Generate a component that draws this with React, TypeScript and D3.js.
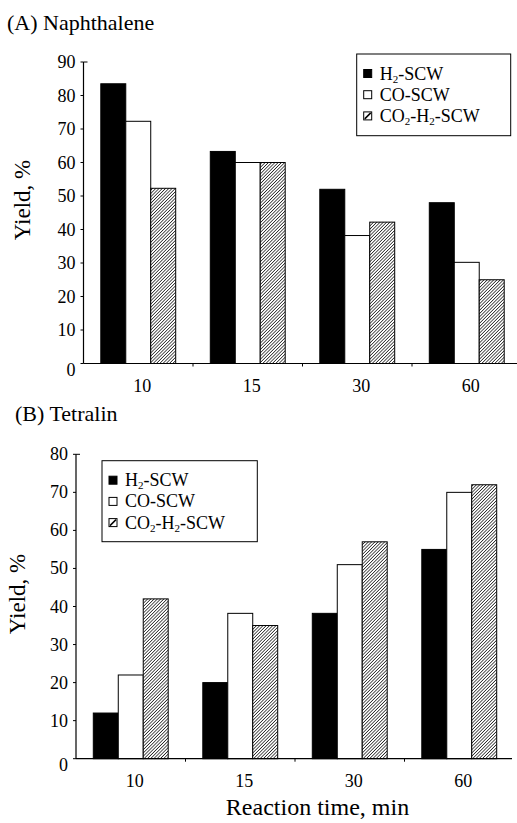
import * as d3 from 'd3';

// reaction times (min)
const categories = ['10', '15', '30', '60'];
const seriesKeys = ['h2', 'co', 'co2h2'];

// (A) Naphthalene yield, %
const naphH2 = [83.5, 63.3, 52, 48];
const naphCO = [72.3, 60, 38.2, 30.2];
const naphCO2H2 = [52.3, 60, 42.2, 25];

// (B) Tetralin yield, %
const tetH2 = [12, 20, 38.2, 55];
const tetCO = [22, 38.2, 51, 70];
const tetCO2H2 = [42, 35, 57, 72];

const yTicksA = [0, 10, 20, 30, 40, 50, 60, 70, 80, 90];
const yTicksB = [0, 10, 20, 30, 40, 50, 60, 70, 80];

const FONT = '"Liberation Serif", "Times New Roman", serif';

function fillFor(key) {
  if (key === 'h2') return '#000';
  if (key === 'co') return '#fff';
  return 'url(#hatch)';
}

function LegendLabel({ k }) {
  if (k === 'h2') {
    return (
      <>
        H<tspan fontSize={11} dy={3}>2</tspan>
        <tspan dy={-3}>-SCW</tspan>
      </>
    );
  }
  if (k === 'co') return <>CO-SCW</>;
  return (
    <>
      CO<tspan fontSize={11} dy={3}>2</tspan>
      <tspan dy={-3}>-H</tspan>
      <tspan fontSize={11} dy={3}>2</tspan>
      <tspan dy={-3}>-SCW</tspan>
    </>
  );
}

function Panel({ title, titleX, titleY, series, yMax, yTicks, xRange, xAxisEnd, yRange, legend, ylabelX, ylabelY }) {
  const x0 = d3.scaleBand().domain(categories).range(xRange).padding(0);
  const x1 = d3.scaleBand().domain(seriesKeys).range([17.3, x0.bandwidth() - 17.3]).padding(0);
  const y = d3.scaleLinear().domain([0, yMax]).range(yRange);
  const axisX = xRange[0];
  const base = y(0);

  return (
    <g>
      <text x={titleX} y={titleY} fontSize={22} fontFamily={FONT}>
        {title}
      </text>

      {/* bars */}
      {categories.map((c, i) => (
        <g key={c} transform={`translate(${x0(c)},0)`}>
          {seriesKeys.map((k) => {
            const v = series[k][i];
            return (
              <rect
                key={k}
                x={x1(k)}
                y={y(v)}
                width={x1.bandwidth()}
                height={base - y(v)}
                fill={fillFor(k)}
                stroke="#000"
                strokeWidth={1}
              />
            );
          })}
        </g>
      ))}

      {/* y axis */}
      <line x1={axisX} x2={axisX} y1={y(yMax)} y2={base} stroke="#000" strokeWidth={1.2} />
      {yTicks.map((t) => (
        <g key={t}>
          <line x1={axisX - 3} x2={axisX} y1={y(t)} y2={y(t)} stroke="#000" />
          <text
            x={axisX - 8}
            y={y(t) + (t === 0 ? 12 : 6)}
            textAnchor="end"
            fontSize={18}
            fontFamily={FONT}
          >
            {t}
          </text>
        </g>
      ))}
      <line x1={axisX} x2={axisX + 4} y1={y(yMax)} y2={y(yMax)} stroke="#000" />

      {/* x axis */}
      <line x1={axisX} x2={xAxisEnd} y1={base} y2={base} stroke="#000" strokeWidth={1.2} />
      {categories.slice(1).map((c) => (
        <line key={c} x1={x0(c)} x2={x0(c)} y1={base} y2={base + 3} stroke="#000" />
      ))}
      {categories.map((c) => (
        <text
          key={c}
          x={x0(c) + x0.bandwidth() / 2 + 4}
          y={base + 28}
          textAnchor="middle"
          fontSize={18}
          fontFamily={FONT}
        >
          {c}
        </text>
      ))}

      {/* y label */}
      <text
        transform={`translate(${ylabelX},${ylabelY}) rotate(-90)`}
        textAnchor="middle"
        fontSize={23}
        fontFamily={FONT}
      >
        Yield, %
      </text>

      {/* legend */}
      <rect x={legend.x} y={legend.y} width={legend.w} height={legend.h} fill="#fff" stroke="#000" strokeWidth={1} />
      {seriesKeys.map((k, i) => {
        const cy = legend.y + 19.5 + i * 21.2;
        const sx = legend.x + 7;
        return (
          <g key={k}>
            <rect x={sx} y={cy - 4} width={8} height={8} fill={k === 'h2' ? '#000' : '#fff'} stroke="#000" strokeWidth={1} />
            {k === 'co2h2' && <line x1={sx + 1} y1={cy + 3} x2={sx + 7} y2={cy - 3} stroke="#000" strokeWidth={1.5} />}
            <text x={sx + 16} y={cy + 6} fontSize={18} fontFamily={FONT}>
              <LegendLabel k={k} />
            </text>
          </g>
        );
      })}
    </g>
  );
}

export default function App() {
  const width = 517;
  const height = 823;
  return (
    <svg
      width={width}
      height={height}
      style={{ position: 'absolute', left: 0, top: 0, background: '#fff' }}
    >
      <defs>
        <pattern id="hatch" patternUnits="userSpaceOnUse" width={2.3} height={2.3} patternTransform="rotate(45)">
          <rect width={2.3} height={2.3} fill="#fff" />
          <line x1={0} y1={0} x2={0} y2={2.3} stroke="#000" strokeWidth={1.3} />
        </pattern>
      </defs>
      <rect width={width} height={height} fill="#fff" />

      <Panel
        title="(A) Naphthalene"
        titleX={7}
        titleY={30}
        series={{ h2: naphH2, co: naphCO, co2h2: naphCO2H2 }}
        yMax={90}
        yTicks={yTicksA}
        xRange={[83.5, 521.5]}
        xAxisEnd={517}
        yRange={[363.5, 62]}
        legend={{ x: 356.7, y: 54, w: 154, h: 81.7 }}
        ylabelX={30}
        ylabelY={200}
      />

      <Panel
        title="(B) Tetralin"
        titleX={15}
        titleY={421}
        series={{ h2: tetH2, co: tetCO, co2h2: tetCO2H2 }}
        yMax={80}
        yTicks={yTicksB}
        xRange={[76, 514]}
        xAxisEnd={512}
        yRange={[758.7, 454.3]}
        legend={{ x: 102, y: 460.7, w: 155.3, h: 81 }}
        ylabelX={25}
        ylabelY={594}
      />

      <text x={317.5} y={815} textAnchor="middle" fontSize={24} fontFamily={FONT}>
        Reaction time, min
      </text>
    </svg>
  );
}
